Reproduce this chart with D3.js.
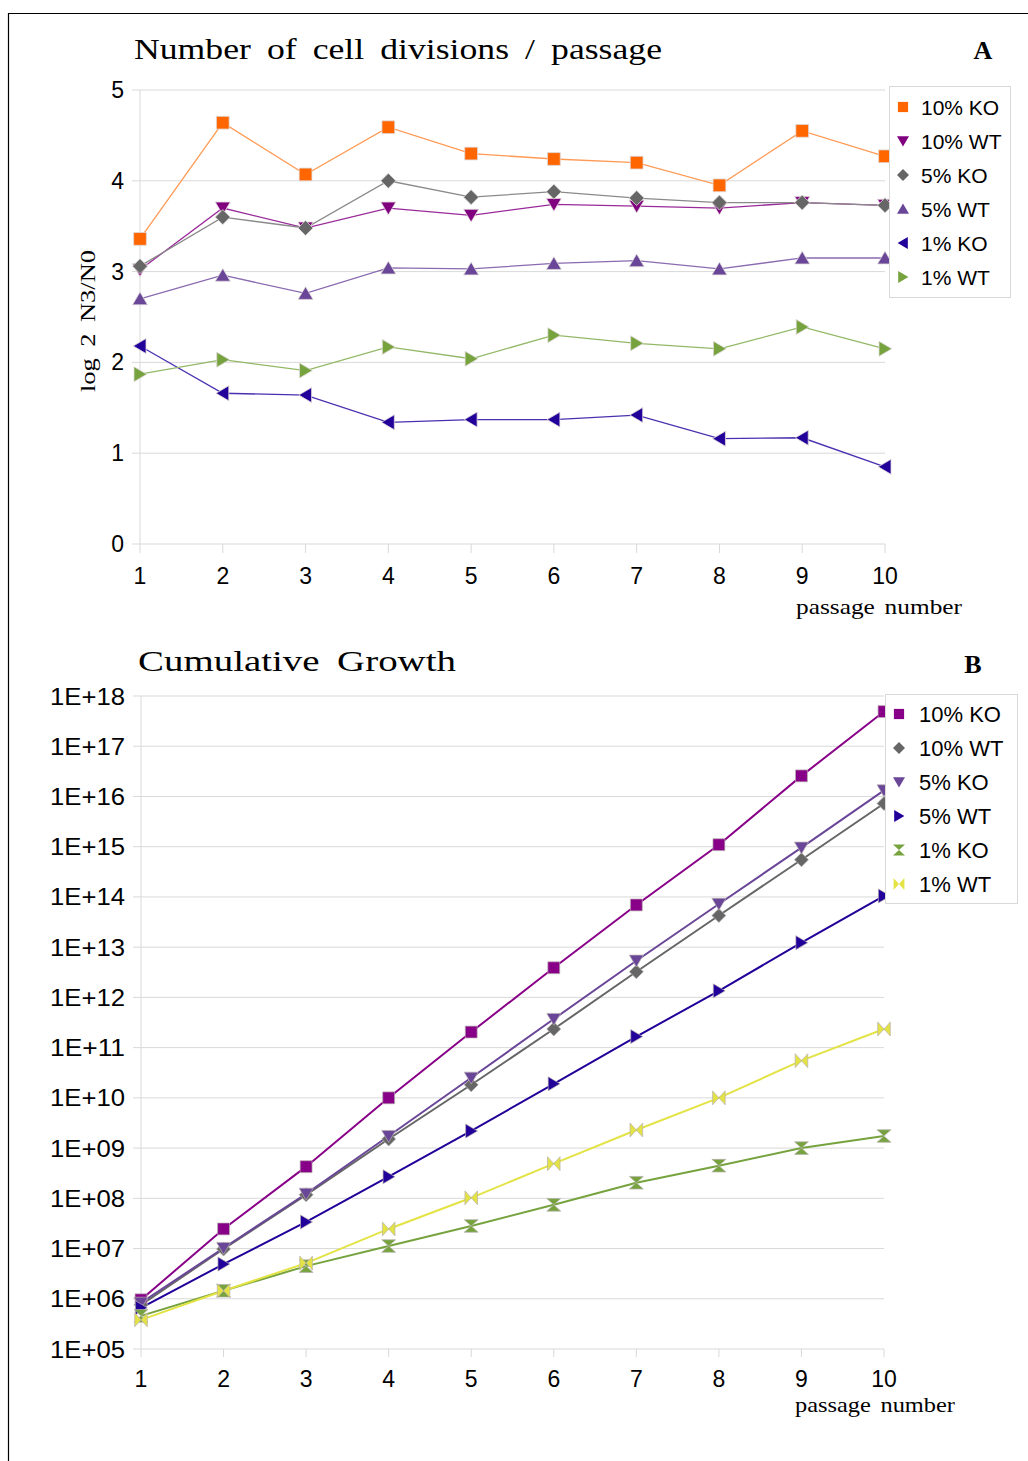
<!DOCTYPE html>
<html><head><meta charset="utf-8">
<script src="https://cdn.jsdelivr.net/npm/d3@7"></script>
<style>body{margin:0;background:#fff}svg{display:block}</style>
</head><body>
<script>
const passages = [1,2,3,4,5,6,7,8,9,10];
const seriesNamesA = ["10% KO","10% WT","5% KO","5% WT","1% KO","1% WT"];
const divKO10 = [3.36,4.64,4.07,4.59,4.30,4.24,4.20,3.95,4.55,4.27];
const divWT10 = [3.02,3.70,3.48,3.70,3.62,3.74,3.72,3.70,3.76,3.73];
const divKO5  = [3.06,3.60,3.48,4.00,3.82,3.88,3.81,3.76,3.76,3.73];
const divWT5  = [2.70,2.96,2.76,3.04,3.03,3.09,3.12,3.03,3.15,3.15];
const divKO1  = [2.18,1.66,1.64,1.34,1.37,1.37,1.42,1.16,1.17,0.85];
const divWT1  = [1.87,2.03,1.91,2.17,2.04,2.30,2.21,2.15,2.39,2.15];
const ticksA = [0,1,2,3,4,5];

const seriesNamesB = ["10% KO","10% WT","5% KO","5% WT","1% KO","1% WT"];
// log10 of cumulative cell number
const cumKO10 = [5.98,7.39,8.63,10.00,11.31,12.59,13.84,15.04,16.41,17.69];
const cumWT10 = [5.88,6.99,8.07,9.18,10.26,11.37,12.51,13.63,14.74,15.86];
const cumKO5  = [5.92,7.01,8.09,9.24,10.40,11.57,12.73,13.86,14.98,16.12];
const cumWT5  = [5.82,6.69,7.53,8.43,9.34,10.28,11.22,12.13,13.09,14.02];
const cumKO1  = [5.66,6.16,6.65,7.05,7.45,7.87,8.31,8.65,9.00,9.24];
const cumWT1  = [5.58,6.16,6.71,7.39,8.01,8.69,9.36,10.00,10.74,11.37];
const ticksB = ["1E+05","1E+06","1E+07","1E+08","1E+09","1E+10","1E+11","1E+12","1E+13","1E+14","1E+15","1E+16","1E+17","1E+18"];

const W = 1028, H = 1461;
const svg = d3.select("body").append("svg").attr("width", W).attr("height", H);

svg.append("path").attr("d", `M8.5,${H} L8.5,13.5 L${W},13.5`).attr("fill","none").attr("stroke","#000").attr("stroke-width",1.2);

function markerPath(type, s) {
  const h = s/2;
  switch(type) {
    case "square": return `M${-h*0.85},${-h*0.85}H${h*0.85}V${h*0.85}H${-h*0.85}Z`;
    case "diamond": return `M0,${-h}L${h},0L0,${h}L${-h},0Z`;
    case "down": return `M${-h},${-h*0.8}L${h},${-h*0.8}L0,${h*0.9}Z`;
    case "up": return `M${-h},${h*0.8}L${h},${h*0.8}L0,${-h*0.9}Z`;
    case "left": return `M${h*0.8},${-h}L${h*0.8},${h}L${-h*0.9},0Z`;
    case "right": return `M${-h*0.8},${-h}L${-h*0.8},${h}L${h*0.9},0Z`;
    case "hourglass": return `M${-h},${-h*0.9}L${h},${-h*0.9}L0,0Z M${-h},${h*0.9}L${h},${h*0.9}L0,0Z`;
    case "bowtie": return `M${-h*0.9},${-h}L${-h*0.9},${h}L0,0Z M${h*0.9},${-h}L${h*0.9},${h}L0,0Z`;
  }
}

const serif = "'Liberation Serif','DejaVu Serif',serif";
const sans = "'Liberation Sans',Arial,sans-serif";

// serif label: widen word gaps a little, then stretch to the target width
function serifText(g, txt, size, ws, target) {
  return g.append("text").attr("font-family",serif).attr("font-size",size)
    .attr("word-spacing",ws).attr("textLength",target).attr("lengthAdjust","spacingAndGlyphs").text(txt);
}

// ---------- Chart A ----------
const xA = d3.scaleLinear().domain([1,10]).range([140,885]);
const yA = d3.scaleLinear().domain([0,5]).range([544,90]);
const gA = svg.append("g");

gA.selectAll("line.grid").data(ticksA).join("line")
  .attr("x1",132).attr("x2",885).attr("y1",d=>yA(d)).attr("y2",d=>yA(d))
  .attr("stroke","#d9d9d9").attr("stroke-width",1);
gA.append("line").attr("x1",140).attr("x2",140).attr("y1",90).attr("y2",544).attr("stroke","#d9d9d9");
gA.selectAll("line.xt").data(passages).join("line")
  .attr("x1",d=>xA(d)).attr("x2",d=>xA(d)).attr("y1",544).attr("y2",553).attr("stroke","#d9d9d9");
gA.selectAll("text.yl").data(ticksA).join("text")
  .attr("x",124).attr("y",d=>yA(d)+8).attr("text-anchor","end")
  .attr("font-family",sans).attr("font-size",23).text(d=>d);
gA.selectAll("text.xl").data(passages).join("text")
  .attr("x",d=>xA(d)).attr("y",584).attr("text-anchor","middle")
  .attr("font-family",sans).attr("font-size",23).text(d=>d);

const seriesA = [
  {name:seriesNamesA[0], vals:divKO10, color:"#ff6600", line:"#ff9a55", shape:"square"},
  {name:seriesNamesA[1], vals:divWT10, color:"#800080", line:"#9a2a9a", shape:"down"},
  {name:seriesNamesA[2], vals:divKO5,  color:"#666666", line:"#8a8a8a", shape:"diamond"},
  {name:seriesNamesA[3], vals:divWT5,  color:"#6a4699", line:"#8a6ab0", shape:"up"},
  {name:seriesNamesA[4], vals:divKO1,  color:"#22009a", line:"#4a30b0", shape:"left"},
  {name:seriesNamesA[5], vals:divWT1,  color:"#76a33e", line:"#93b866", shape:"right"}
];
const lineA = d3.line().x((d,i)=>xA(passages[i])).y(d=>yA(d));
seriesA.forEach(s=>{
  gA.append("path").attr("d",lineA(s.vals)).attr("fill","none").attr("stroke",s.line).attr("stroke-width",1.3);
});
seriesA.forEach(s=>{
  gA.selectAll(null).data(s.vals).join("path")
    .attr("transform",(d,i)=>`translate(${xA(passages[i])},${yA(d)})`)
    .attr("d",markerPath(s.shape,15)).attr("fill",s.color).attr("stroke","#e0d8d8").attr("stroke-width",0.8);
});

serifText(gA, "Number of cell divisions / passage", 30, 6, 528).attr("x",134).attr("y",59);
gA.append("text").attr("x",983).attr("y",59).attr("text-anchor","middle").attr("font-family",serif)
  .attr("font-weight","bold").attr("font-size",26).text("A");
serifText(gA, "log 2 N3/N0", 22, 4, 142).attr("transform","translate(95,392) rotate(-90)");
serifText(gA, "passage number", 22, 3, 166).attr("x",796).attr("y",614);

const legA = gA.append("g");
legA.append("rect").attr("x",889.5).attr("y",86.5).attr("width",121).attr("height",211)
  .attr("fill","#fff").attr("stroke","#d9d9d9");
seriesA.forEach((s,i)=>{
  const cy = 107 + i*34;
  legA.append("path").attr("transform",`translate(903,${cy})`).attr("d",markerPath(s.shape,12)).attr("fill",s.color);
  legA.append("text").attr("x",921).attr("y",cy+7.5).attr("font-family",sans).attr("font-size",21).text(s.name);
});

// ---------- Chart B ----------
const xB = d3.scaleLinear().domain([1,10]).range([141,884]);
const yB = d3.scaleLinear().domain([5,18]).range([1349,696]);
const gB = svg.append("g");
const tickVals = ticksB.map((t,i)=>5+i);
gB.selectAll("line.grid").data(tickVals).join("line")
  .attr("x1",133).attr("x2",884).attr("y1",d=>yB(d)).attr("y2",d=>yB(d))
  .attr("stroke","#d9d9d9").attr("stroke-width",1);
gB.append("line").attr("x1",141).attr("x2",141).attr("y1",696).attr("y2",1349).attr("stroke","#d9d9d9");
gB.selectAll("line.xt").data(passages).join("line")
  .attr("x1",d=>xB(d)).attr("x2",d=>xB(d)).attr("y1",1349).attr("y2",1357).attr("stroke","#d9d9d9");
gB.selectAll("text.yl").data(ticksB).join("text")
  .attr("x",125).attr("y",(d,i)=>yB(tickVals[i])+8.5).attr("text-anchor","end")
  .attr("font-family",sans).attr("font-size",24).attr("textLength",75).attr("lengthAdjust","spacingAndGlyphs").text(d=>d);
gB.selectAll("text.xl").data(passages).join("text")
  .attr("x",d=>xB(d)).attr("y",1387).attr("text-anchor","middle")
  .attr("font-family",sans).attr("font-size",23).text(d=>d);

const seriesB = [
  {name:seriesNamesB[0], vals:cumKO10, color:"#880088", shape:"square"},
  {name:seriesNamesB[1], vals:cumWT10, color:"#666666", shape:"diamond"},
  {name:seriesNamesB[2], vals:cumKO5,  color:"#6a4699", shape:"down"},
  {name:seriesNamesB[3], vals:cumWT5,  color:"#22009a", shape:"right"},
  {name:seriesNamesB[4], vals:cumKO1,  color:"#76a33e", shape:"hourglass"},
  {name:seriesNamesB[5], vals:cumWT1,  color:"#e3e346", shape:"bowtie"}
];
const lineB = d3.line().x((d,i)=>xB(passages[i])).y(d=>yB(d));
seriesB.forEach(s=>{
  gB.append("path").attr("d",lineB(s.vals)).attr("fill","none").attr("stroke",s.color).attr("stroke-width",2);
});
seriesB.forEach(s=>{
  gB.selectAll(null).data(s.vals).join("path")
    .attr("transform",(d,i)=>`translate(${xB(passages[i])},${yB(d)})`)
    .attr("d",markerPath(s.shape,14)).attr("fill",s.color).attr("stroke","#b8b0b0").attr("stroke-width",0.7);
});

serifText(gB, "Cumulative Growth", 30, 6, 318).attr("x",138).attr("y",671);
gB.append("text").attr("x",973).attr("y",673).attr("text-anchor","middle").attr("font-family",serif)
  .attr("font-weight","bold").attr("font-size",26).text("B");
serifText(gB, "passage number", 21, 3, 160).attr("x",795).attr("y",1412);

const legB = gB.append("g");
legB.append("rect").attr("x",885.5).attr("y",694.5).attr("width",132).attr("height",209)
  .attr("fill","#fff").attr("stroke","#d9d9d9");
seriesB.forEach((s,i)=>{
  const cy = 714 + i*34;
  legB.append("path").attr("transform",`translate(899,${cy})`).attr("d",markerPath(s.shape,12)).attr("fill",s.color);
  legB.append("text").attr("x",919).attr("y",cy+7.5).attr("font-family",sans).attr("font-size",22).text(s.name);
});
</script>
</body></html>
